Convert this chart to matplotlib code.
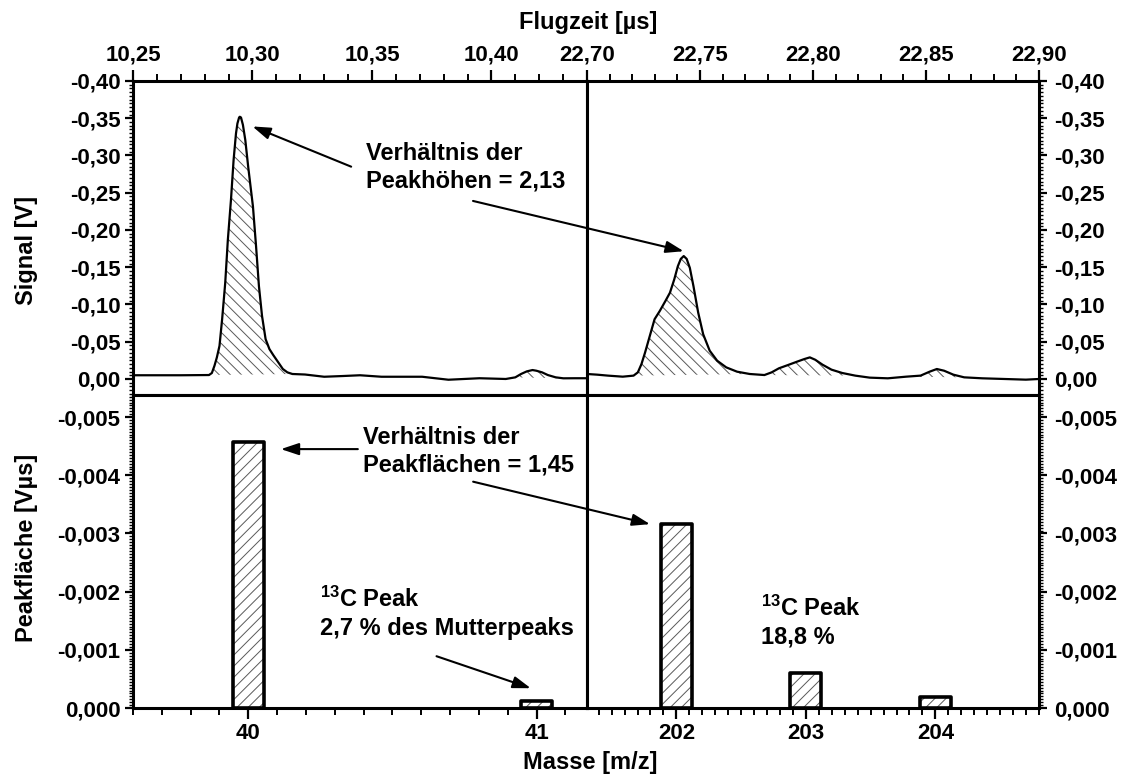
import numpy as np
import matplotlib
matplotlib.use("Agg")
import matplotlib.pyplot as plt
import matplotlib.ticker as mticker
from matplotlib.patches import ConnectionPatch

plt.rcParams.update({
    "font.family": "Liberation Sans",
    "font.weight": "bold",
    "mathtext.fontset": "custom",
    "mathtext.rm": "Liberation Sans:bold",
    "mathtext.bf": "Liberation Sans:bold",
    "mathtext.default": "bf",
    "hatch.linewidth": 0.7,
})

# Flugzeitspektren (Signal in V), Masse 40 und Masse 202
t_40 = np.array([10.250, 10.260, 10.270, 10.2818, 10.2830, 10.2841, 10.2851, 10.2862,
                 10.2873, 10.2886, 10.2897, 10.2910, 10.2921, 10.2931, 10.2937, 10.2944,
                 10.2947, 10.2952, 10.2960, 10.2970, 10.2982, 10.2992, 10.3002, 10.3015,
                 10.3027, 10.3040, 10.3055, 10.3071, 10.3087, 10.3108, 10.3127, 10.3146,
                 10.3167, 10.322, 10.330, 10.338, 10.345, 10.354, 10.362, 10.371,
                 10.382, 10.395, 10.406, 10.4100, 10.4124, 10.4148, 10.4172, 10.4188,
                 10.4212, 10.4236, 10.4269, 10.4301, 10.435, 10.440])
u_40 = np.array([-0.005, -0.005, -0.005, -0.0053, -0.0080, -0.0178, -0.0290, -0.0445,
                 -0.0802, -0.1292, -0.1871, -0.2405, -0.2940, -0.3296, -0.3430, -0.3510,
                 -0.352, -0.3510, -0.3411, -0.3207, -0.2851, -0.2583, -0.2316, -0.1782,
                 -0.1247, -0.0846, -0.0534, -0.0401, -0.0321, -0.0223, -0.0134, -0.0089,
                 -0.0067, -0.006, -0.003, -0.004, -0.005, -0.003, -0.003, -0.003,
                 0.001, -0.001, 0.000, -0.0022, -0.0067, -0.0102, -0.0120, -0.0111,
                 -0.0089, -0.0053, -0.0022, -0.0009, -0.001, -0.001])
t_202 = np.array([22.7000, 22.7045, 22.7093, 22.7158, 22.7206, 22.7225, 22.7241, 22.7257,
                  22.7278, 22.7299, 22.7322, 22.7347, 22.7367, 22.7386, 22.7402, 22.7415,
                  22.7428, 22.7441, 22.7455, 22.7471, 22.7492, 22.7514, 22.7543, 22.7576,
                  22.7616, 22.7664, 22.7720, 22.7785, 22.7817, 22.7849, 22.7889, 22.7929,
                  22.7961, 22.7986, 22.8010, 22.8042, 22.8082, 22.8130, 22.8187, 22.8251,
                  22.8331, 22.8412, 22.8476, 22.8516, 22.8548, 22.8580, 22.8621, 22.8669,
                  22.8749, 22.8846, 22.8942, 22.9000])
u_202 = np.array([-0.0067, -0.0058, -0.0045, -0.0031, -0.0045, -0.0089, -0.0200, -0.0356,
                  -0.0579, -0.0802, -0.0913, -0.1047, -0.1158, -0.1336, -0.1514, -0.1612,
                  -0.165, -0.1612, -0.1492, -0.1247, -0.0891, -0.0601, -0.0379, -0.0245,
                  -0.0156, -0.0098, -0.0067, -0.0053, -0.0089, -0.0143, -0.0187, -0.0232,
                  -0.0267, -0.0290, -0.0258, -0.0192, -0.0125, -0.0080, -0.0045, -0.0018,
                  -0.0009, -0.0031, -0.0045, -0.0098, -0.0134, -0.0111, -0.0058, -0.0022,
                  -0.0009, 0.000, 0.0009, 0.000])
# integrierte Peaks (Start, Ende)
peaks_40 = [(10.2818, 10.3167), (10.4100, 10.4301)]
peaks_202 = [(22.7206, 22.7720), (22.7785, 22.8187), (22.8412, 22.8669)]

# Peakflächen in V*us
mass_left = [40, 41]
area_left = [-0.00458, -0.000124]
mass_right = [202, 203, 204]
area_right = [-0.00316, -0.000594, -0.000184]

W, H = 1127, 776
fig = plt.figure(figsize=(W / 100, H / 100), dpi=100)
L, M, R = 133 / W, 587 / W, 1039 / W
top, mid, bot = 1 - 81 / H, 1 - 395 / H, 1 - 708 / H

axTL = fig.add_axes([L, mid, M - L, top - mid])
axTR = fig.add_axes([M, mid, R - M, top - mid])
axBL = fig.add_axes([L, bot, M - L, mid - bot])
axBR = fig.add_axes([M, bot, R - M, mid - bot])


def comma(dec):
    return mticker.FuncFormatter(lambda v, p: f"{round(v, dec) + 0.0:.{dec}f}".replace(".", ","))


def hatch_peak(ax, t, u, t0, t1):
    m = (t >= t0 - 1e-9) & (t <= t1 + 1e-9)
    tt, uu = t[m], u[m]
    base = uu[0] + (uu[-1] - uu[0]) * (tt - tt[0]) / (tt[-1] - tt[0])
    ax.fill_between(tt, uu, base, facecolor="none", edgecolor="0.35", lw=0, hatch="\\\\\\")


for ax in (axTL, axTR, axBL, axBR):
    for s in ax.spines.values():
        s.set_linewidth(2.2)
    ax.tick_params(which="both", direction="out", labelsize=16, colors="k")
    ax.tick_params(axis="x", which="major", length=8, width=1.6, pad=3)
    ax.tick_params(axis="x", which="minor", length=5, width=1.4)
    ax.tick_params(axis="y", which="major", length=6, width=1.6, pad=3)
    ax.tick_params(axis="y", which="minor", length=3, width=1.0)

# oberer Teil: Signal ueber Flugzeit
for ax, t, u, peaks, xlim in ((axTL, t_40, u_40, peaks_40, (10.25, 10.44)),
                              (axTR, t_202, u_202, peaks_202, (22.70, 22.90))):
    ax.plot(t, u, color="k", lw=1.6, solid_joinstyle="round")
    for t0, t1 in peaks:
        hatch_peak(ax, t, u, t0, t1)
    ax.set_xlim(*xlim)
    ax.set_ylim(0.0215, -0.40)
    ax.xaxis.set_major_locator(mticker.MultipleLocator(0.05))
    ax.xaxis.set_minor_locator(mticker.MultipleLocator(0.01))
    ax.xaxis.set_major_formatter(comma(2))
    ax.yaxis.set_major_locator(mticker.MultipleLocator(0.05))
    ax.yaxis.set_minor_locator(mticker.MultipleLocator(0.005))
    ax.yaxis.set_major_formatter(comma(2))
    ax.tick_params(axis="x", which="both", top=True, bottom=False,
                   labeltop=True, labelbottom=False)

# unterer Teil: Peakflaechen
for ax, x, y, w, xlim in ((axBL, mass_left, area_left, 0.108, (39.6, 41.175)),
                          (axBR, mass_right, area_right, 0.24, (201.31, 204.8))):
    ax.bar(x, y, width=w, facecolor="white", edgecolor="0.35", lw=0, hatch="///", zorder=2)
    ax.bar(x, y, width=w, facecolor="none", edgecolor="k", lw=2.6, joinstyle="round", zorder=3)
    ax.set_xlim(*xlim)
    ax.set_ylim(0, -0.00538)
    ax.xaxis.set_major_locator(mticker.FixedLocator(x))
    ax.xaxis.set_minor_locator(mticker.MultipleLocator(0.1))
    ax.yaxis.set_major_locator(mticker.MultipleLocator(0.001))
    ax.yaxis.set_minor_locator(mticker.MultipleLocator(0.00005))
    ax.yaxis.set_major_formatter(comma(3))
    ax.tick_params(axis="x", which="both", top=False, bottom=True)

for ax in (axTL, axBL):
    ax.tick_params(axis="y", which="both", left=True, right=False,
                   labelleft=True, labelright=False)
for ax in (axTR, axBR):
    ax.tick_params(axis="y", which="both", left=False, right=True,
                   labelleft=False, labelright=True, pad=5)
for ax in (axTL, axTR, axBL, axBR):
    for lab in ax.get_xticklabels() + ax.get_yticklabels():
        lab.set_fontweight("bold")

# Achsentitel
fig.text(588 / W, 1 - 22 / H, "Flugzeit [µs]", ha="center", va="center", fontsize=17, fontweight="bold")
fig.text(590 / W, 1 - 762 / H, "Masse [m/z]", ha="center", va="center", fontsize=17, fontweight="bold")
fig.text(26 / W, 1 - 250 / H, "Signal [V]", ha="center", va="center", rotation=90, fontsize=17, fontweight="bold")
fig.text(27 / W, 1 - 548 / H, "Peakfläche [Vµs]", ha="center", va="center", rotation=90, fontsize=17, fontweight="bold")

arrow = dict(arrowstyle="-|>,head_length=0.6,head_width=0.2", color="k", lw=1.5,
             mutation_scale=18, shrinkA=0, shrinkB=0)

# Peakhoehen
axTL.text(10.3477, -0.284, "Verhältnis der\nPeakhöhen = 2,13", ha="left", va="center",
          fontsize=17, fontweight="bold", linespacing=1.25)
axTL.annotate("", xy=(10.300, -0.339), xytext=(10.3413, -0.285), arrowprops=arrow)
fig.add_artist(ConnectionPatch(xyA=(10.3923, -0.239), coordsA=axTL.transData,
                               xyB=(22.7428, -0.1715), coordsB=axTR.transData, **arrow))

# Peakflaechen
axBL.text(40.397, -0.00442, "Verhältnis der\nPeakflächen = 1,45", ha="left", va="center",
          fontsize=17, fontweight="bold", linespacing=1.25)
axBL.annotate("", xy=(40.113, -0.00445), xytext=(40.38, -0.00445), arrowprops=arrow)
fig.add_artist(ConnectionPatch(xyA=(40.78, -0.00389), coordsA=axBL.transData,
                               xyB=(201.797, -0.00316), coordsB=axBR.transData, **arrow))

axBL.text(40.25, -0.00163, "$^{13}$C Peak\n2,7 % des Mutterpeaks", ha="left", va="center",
          fontsize=17, fontweight="bold", linespacing=1.25)
axBL.annotate("", xy=(40.98, -0.00034), xytext=(40.653, -0.00089), arrowprops=arrow)

axBR.text(202.653, -0.00148, "$^{13}$C Peak\n18,8 %", ha="left", va="center",
          fontsize=17, fontweight="bold", linespacing=1.25)

fig.savefig("out.png", dpi=100)
